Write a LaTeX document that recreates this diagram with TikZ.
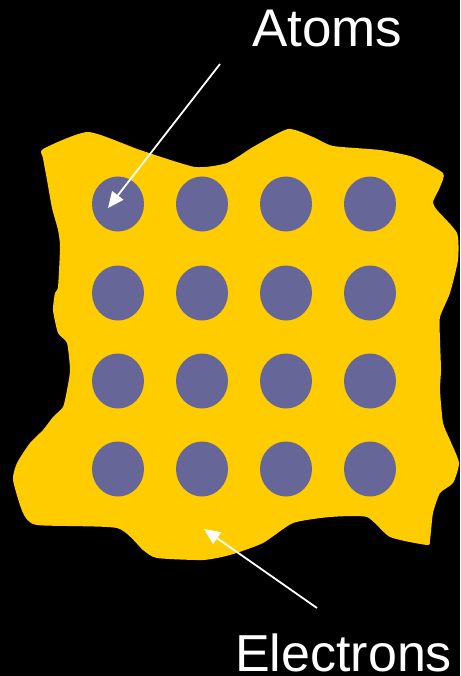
\documentclass[tikz,border=0pt]{standalone}
\usepackage{fontspec}
\setmainfont{Liberation Sans}
\usetikzlibrary{arrows.meta,shapes.geometric}
\definecolor{blobyellow}{HTML}{FFCC00}
\definecolor{atomblue}{HTML}{666699}
\tikzset{
  atom/.style={ellipse, fill=atomblue, minimum width=52pt, minimum height=55pt, inner sep=0pt},
  pointer/.style={draw=white, line width=1.8pt, -{Triangle[length=16pt,width=14pt]}},
  biglabel/.style={text=white, font=\fontsize{53}{53}\selectfont, inner sep=0pt, anchor=base west}
}
\begin{document}
\begin{tikzpicture}[x=1pt,y=-1pt]
\fill[black] (0,0) rectangle (460,676);
\useasboundingbox (0,0) rectangle (460,676);
% electron sea
\fill[blobyellow] plot[smooth cycle, tension=0.35] coordinates {
 (43,149) (88,132) (140,150) (195,167) (227,163) (253,147) (288,129) (313,137)
 (333,146) (380,150) (413,157) (443,173) (440,187) (433,202) (437,210) (457,233)
 (458,260) (450,293) (440,317) (440,340) (441,370) (440,390) (443,423) (450,440)
 (459,463) (453,483) (440,493) (433,513) (430,540) (427,545) (390,537) (367,517)
 (330,517) (293,523) (263,543) (230,555) (203,560) (157,558) (143,550) (117,528)
 (37,525) (23,513) (13,480) (17,463) (30,443) (43,430) (53,417) (63,407) (67,390)
 (70,370) (67,343) (58,333) (53,310) (55,293) (58,287) (60,247) (58,230) (52,208)
 (47,180) (43,158)};
% atoms
\foreach \r/\y in {1/204,2/293,3/381,4/469}{
  \foreach \c/\x in {1/118,2/202,3/286,4/370}{
    \node[atom] (a\r\c) at (\x,\y) {};
  }
}
% labels
\node[biglabel] (atoms) at (252,47) {Atoms};
\node[biglabel, font=\fontsize{52}{52}\selectfont] (electrons) at (235,671) {Electrons};
\coordinate (atomstail) at (220,64);
\coordinate (atomstip) at (108,208);
\coordinate (electail) at (317,608);
\coordinate (electip) at (204,529);
\draw[pointer] (atomstail) -- (atomstip);
\draw[pointer] (electail) -- (electip);
\end{tikzpicture}
\end{document}
